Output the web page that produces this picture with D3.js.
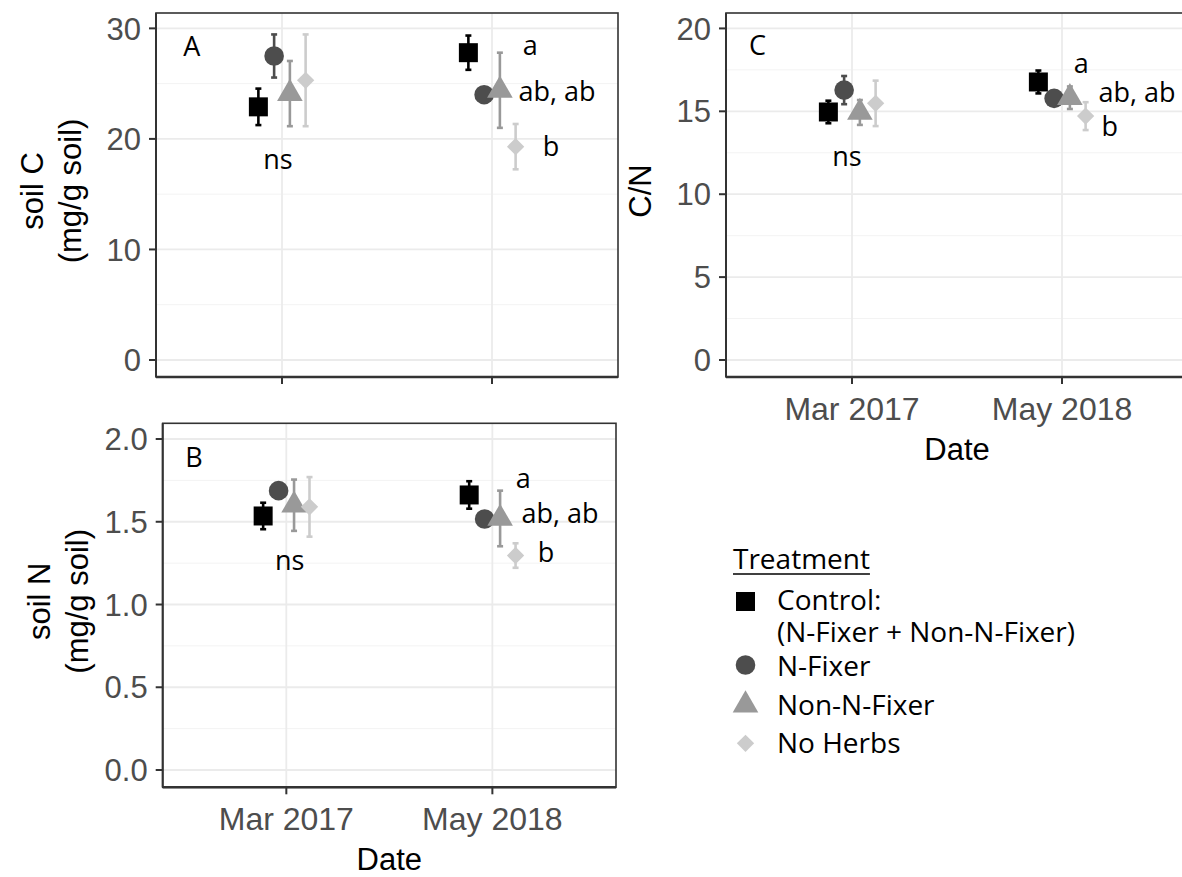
<!DOCTYPE html>
<html><head><meta charset="utf-8">
<script src="https://cdn.jsdelivr.net/npm/d3@7"></script>
<style>body{margin:0;background:#fff} svg{display:block}</style>
</head><body><svg id="chart" width="1182" height="877"></svg>
<script>
// ---------- data ----------
const dates = ["Mar 2017", "May 2018"];
const treatments = ["Control", "N-Fixer", "Non-N-Fixer", "No Herbs"];
const legendLabels = [["Control:", "(N-Fixer + Non-N-Fixer)"], ["N-Fixer"], ["Non-N-Fixer"], ["No Herbs"]];
const colors = ["#000000", "#4D4D4D", "#999999", "#CCCCCC"];

// rows = treatments, columns = dates
const soilC_mean = [[22.9, 27.8], [27.5, 24.0], [24.1, 24.4], [25.3, 19.3]];
const soilC_se   = [[1.65, 1.55], [1.95, 0.3], [2.95, 3.4], [4.15, 2.05]];
const soilN_mean = [[1.535, 1.662], [1.688, 1.517], [1.60, 1.52], [1.59, 1.296]];
const soilN_se   = [[0.08, 0.083], [0.02, 0.02], [0.155, 0.168], [0.18, 0.074]];
const cn_mean    = [[14.96, 16.77], [16.28, 15.78], [14.93, 15.82], [15.48, 14.71]];
const cn_se      = [[0.68, 0.69], [0.85, 0.1], [0.75, 0.68], [1.37, 0.84]];

const soilC_ticks = [0, 10, 20, 30];
const soilN_ticks = [0, 0.5, 1.0, 1.5, 2.0];
const cn_ticks    = [0, 5, 10, 15, 20];

// significance letters: [text, date index, offset (date units), baseline value]
const soilC_letters = [["ns", 0, -0.019, 17.25], ["a", 1, 0.182, 27.6], ["ab, ab", 1, 0.31, 23.45], ["b", 1, 0.281, 18.45]];
const soilN_letters = [["ns", 0, 0.016, 1.208], ["a", 1, 0.150, 1.702], ["ab, ab", 1, 0.328, 1.494], ["b", 1, 0.26, 1.259]];
const cn_letters    = [["ns", 0, -0.024, 11.7], ["a", 1, 0.092, 17.29], ["ab, ab", 1, 0.357, 15.58], ["b", 1, 0.227, 13.51]];

const dodge = [-0.1125, -0.0375, 0.0375, 0.1125];

// ---------- drawing ----------
const svg = d3.select("#chart");
svg.append("rect").attr("width", 1182).attr("height", 877).attr("fill", "#fff");

const axisFont = "'Liberation Sans', Arial, sans-serif";
const annFont = "'Open Sans', 'Noto Sans', sans-serif";

const shapes = [
  {type: d3.symbolSquare, size: 361, rot: 0},
  {type: d3.symbolCircle, size: 302, rot: 0},
  {type: d3.symbolTriangle, size: 284, rot: 0},
  {type: d3.symbolSquare, size: 150, rot: 45}
];

function drawPanel(p) {
  const x = d3.scaleLinear().domain([-0.6, 1.6]).range([p.left, p.right]);
  const y = d3.scaleLinear().domain(p.yDomain).range([p.bottom, p.top]);
  const g = svg.append("g");

  // minor grid
  const minor = d3.pairs(p.ticks).map(([a, b]) => (a + b) / 2);
  g.selectAll(".minor").data(minor).join("line")
    .attr("x1", p.left).attr("x2", p.right).attr("y1", d => y(d)).attr("y2", d => y(d))
    .attr("stroke", "#F3F3F3").attr("stroke-width", 1);
  // major grid
  g.selectAll(".majh").data(p.ticks).join("line")
    .attr("x1", p.left).attr("x2", p.right).attr("y1", d => y(d)).attr("y2", d => y(d))
    .attr("stroke", "#EBEBEB").attr("stroke-width", 1.8);
  g.selectAll(".majv").data(dates).join("line")
    .attr("x1", (d, i) => x(i)).attr("x2", (d, i) => x(i)).attr("y1", p.top).attr("y2", p.bottom)
    .attr("stroke", "#EBEBEB").attr("stroke-width", 1.8);

  // border
  g.append("rect").attr("x", p.left).attr("y", p.top).attr("width", p.right - p.left).attr("height", p.bottom - p.top)
    .attr("fill", "none").attr("stroke", "#333333").attr("stroke-width", 1.6);
  g.append("line").attr("x1", p.left).attr("x2", p.right).attr("y1", p.bottom).attr("y2", p.bottom)
    .attr("stroke", "#333333").attr("stroke-width", 2.4);
  g.append("line").attr("x1", p.left).attr("x2", p.left).attr("y1", p.top).attr("y2", p.bottom)
    .attr("stroke", "#333333").attr("stroke-width", 2);

  // y axis ticks and labels
  g.selectAll(".yt").data(p.ticks).join("line")
    .attr("x1", p.left - 7).attr("x2", p.left).attr("y1", d => y(d)).attr("y2", d => y(d))
    .attr("stroke", "#333333").attr("stroke-width", 2);
  g.selectAll(".yl").data(p.ticks).join("text")
    .attr("x", p.left - 15).attr("y", d => y(d)).attr("dy", "0.36em")
    .attr("text-anchor", "end").attr("font-family", axisFont).attr("font-size", 31).attr("fill", "#4D4D4D")
    .text(d => p.fmt(d));

  // x axis ticks
  g.selectAll(".xt").data(dates).join("line")
    .attr("x1", (d, i) => x(i)).attr("x2", (d, i) => x(i)).attr("y1", p.bottom).attr("y2", p.bottom + 7)
    .attr("stroke", "#333333").attr("stroke-width", 2);
  if (p.xLabels) {
    g.selectAll(".xl").data(dates).join("text")
      .attr("x", (d, i) => x(i)).attr("y", p.bottom + 43)
      .attr("text-anchor", "middle").attr("font-family", axisFont).attr("font-size", 32).attr("fill", "#4D4D4D")
      .text(d => d);
    g.append("text").attr("x", (p.left + p.right) / 2).attr("y", p.bottom + 82.5)
      .attr("text-anchor", "middle").attr("font-family", axisFont).attr("font-size", 31).attr("fill", "#000")
      .text("Date");
  }

  // y title (rotated)
  const n = p.yTitle.length;
  p.yTitle.forEach((t, k) => {
    const bx = p.left - 75 - (n - 1 - k) * 38;
    svg.append("text")
      .attr("transform", `translate(${bx},${(p.top + p.bottom) / 2 - 4}) rotate(-90)`)
      .attr("text-anchor", "middle").attr("font-family", axisFont).attr("font-size", 31).attr("fill", "#000")
      .text(t);
  });

  // data rows
  const rows = [];
  treatments.forEach((t, ti) => dates.forEach((d, di) => rows.push({
    ti, di, m: p.mean[ti][di], se: p.se[ti][di], cx: x(di + dodge[ti])
  })));

  // error bars
  const eb = g.selectAll(".eb").data(rows).join("g").attr("stroke", d => colors[d.ti]).attr("stroke-width", 2.6);
  eb.append("line").attr("x1", d => d.cx).attr("x2", d => d.cx).attr("y1", d => y(d.m - d.se)).attr("y2", d => y(d.m + d.se));
  eb.append("line").attr("x1", d => d.cx - 3).attr("x2", d => d.cx + 3).attr("y1", d => y(d.m - d.se)).attr("y2", d => y(d.m - d.se));
  eb.append("line").attr("x1", d => d.cx - 3).attr("x2", d => d.cx + 3).attr("y1", d => y(d.m + d.se)).attr("y2", d => y(d.m + d.se));

  // points
  g.selectAll(".pt").data(rows).join("path")
    .attr("d", d => d3.symbol().type(shapes[d.ti].type).size(shapes[d.ti].size)())
    .attr("transform", d => `translate(${d.cx},${y(d.m)}) rotate(${shapes[d.ti].rot})`)
    .attr("fill", d => colors[d.ti]);

  // letters
  g.selectAll(".let").data(p.letters).join("text")
    .attr("x", d => x(d[1] + d[2])).attr("y", d => y(d[3]))
    .attr("text-anchor", "middle").attr("font-family", annFont).attr("font-size", 27).attr("fill", "#000")
    .text(d => d[0]);

  // tag
  g.append("text").attr("x", x(p.tagPos[0])).attr("y", y(p.tagPos[1]))
    .attr("font-family", annFont).attr("font-size", 27).attr("fill", "#000").text(p.tag);
}

drawPanel({left: 156, right: 618, top: 13, bottom: 377, yDomain: [-1.54, 31.39], ticks: soilC_ticks,
  fmt: d3.format("d"), mean: soilC_mean, se: soilC_se, letters: soilC_letters, xLabels: false,
  yTitle: ["soil C", "(mg/g soil)"], tag: "A", tagPos: [-0.47, 27.5]});
drawPanel({left: 162.7, right: 616, top: 423.3, bottom: 787.3, yDomain: [-0.1045, 2.095], ticks: soilN_ticks,
  fmt: d3.format(".1f"), mean: soilN_mean, se: soilN_se, letters: soilN_letters, xLabels: true,
  yTitle: ["soil N", "(mg/g soil)"], tag: "B", tagPos: [-0.49, 1.833]});
drawPanel({left: 726, right: 1188, top: 13, bottom: 377, yDomain: [-1.025, 20.93], ticks: cn_ticks,
  fmt: d3.format("d"), mean: cn_mean, se: cn_se, letters: cn_letters, xLabels: true,
  yTitle: ["C/N"], tag: "C", tagPos: [-0.49, 18.4]});

// ---------- legend ----------
const lg = svg.append("g");
const title = lg.append("text").attr("x", 733).attr("y", 569)
  .attr("font-family", annFont).attr("font-size", 28).attr("fill", "#000").text("Treatment");
const tw = title.node().getComputedTextLength();
lg.append("line").attr("x1", 733).attr("x2", 733 + tw).attr("y1", 574).attr("y2", 574)
  .attr("stroke", "#000").attr("stroke-width", 1.6);

const legMarkY = [601.5, 665, 705, 743.3];
const legTextY = [610, 676, 715, 753.3];
legendLabels.forEach((lines, i) => {
  lg.append("path")
    .attr("d", d3.symbol().type(shapes[i].type).size(shapes[i].size)())
    .attr("transform", `translate(745.5,${legMarkY[i]}) rotate(${shapes[i].rot})`)
    .attr("fill", colors[i]);
  const t = lg.append("text").attr("x", 777).attr("y", legTextY[i])
    .attr("font-family", annFont).attr("font-size", 28).attr("fill", "#000");
  lines.forEach((line, k) => {
    t.append("tspan").attr("x", 777).attr("dy", k === 0 ? 0 : 31.7).text(line);
  });
});
</script>
</body></html>
